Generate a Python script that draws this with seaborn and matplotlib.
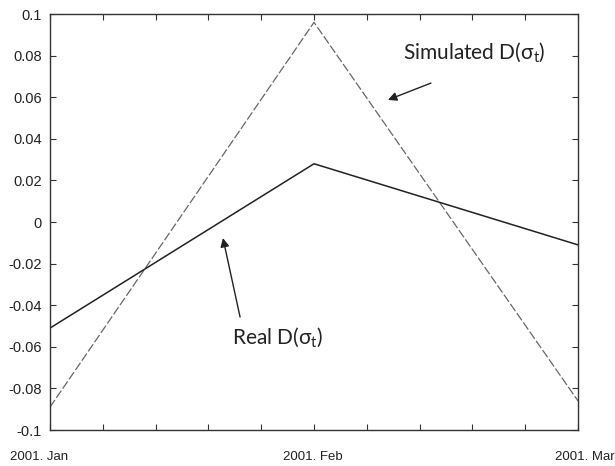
import matplotlib
matplotlib.use("Agg")
import matplotlib.pyplot as plt
import matplotlib.transforms as mtransforms
from matplotlib.ticker import MultipleLocator
import seaborn as sns
import pandas as pd

months = ["2001. Jan", "2001. Feb", "2001. Mar"]
simulated = [-0.089, 0.096, -0.086]
real = [-0.051, 0.028, -0.011]
yticks = [-0.1, -0.08, -0.06, -0.04, -0.02, 0, 0.02, 0.04, 0.06, 0.08, 0.1]
ytick_labels = ["-0.1", "-0.08", "-0.06", "-0.04", "-0.02", "0",
                "0.02", "0.04", "0.06", "0.08", "0.1"]

sns.set_style("ticks")
plt.rcParams['font.family'] = ['Liberation Sans', 'DejaVu Sans']
plt.rcParams['mathtext.fontset'] = 'custom'
plt.rcParams['mathtext.rm'] = 'Lato'
plt.rcParams['mathtext.it'] = 'Lato'

df = pd.DataFrame({"pos": list(range(len(months))) * 2,
                   "value": simulated + real,
                   "series": ["Simulated"] * 3 + ["Real"] * 3})

fig = plt.figure(figsize=(6.15, 4.66), dpi=100)
ax = fig.add_axes([50/615, 36/466, 528/615, 416/466])

sns.lineplot(data=df[df.series == "Simulated"], x="pos", y="value", ax=ax,
             color="#666666", linewidth=0.9, legend=False)
ax.lines[-1].set_linestyle((0, (7, 2)))
sns.lineplot(data=df[df.series == "Real"], x="pos", y="value", ax=ax,
             color="#222222", linewidth=1.1, legend=False)

ax.set_xlim(0, 2)
ax.set_ylim(-0.1, 0.1)
ax.set_xlabel("")
ax.set_ylabel("")
ax.set_xticks(range(len(months)))
ax.set_xticklabels(months, fontsize=9.5, color="#222222")
ax.xaxis.set_minor_locator(MultipleLocator(0.2))
ax.set_yticks(yticks)
ax.set_yticklabels(ytick_labels, fontsize=10.5, color="#222222")
ax.tick_params(axis='both', which='both', direction='in', top=True, right=True,
               length=4, width=0.8, color="#333333")
ax.tick_params(axis='x', which='both', pad=15)
ax.tick_params(axis='y', pad=6)
for s in ax.spines.values():
    s.set_linewidth(1.0)
    s.set_color("#333333")

labs = ax.get_xticklabels()
for lab, dx in zip(labs, [-11, -1, 7]):
    off = mtransforms.ScaledTranslation(dx/100, 0, fig.dpi_scale_trans)
    lab.set_transform(lab.get_transform() + off)

arrow_kw = dict(arrowstyle="-|>", color="#222222", lw=1.0,
                mutation_scale=13, shrinkA=0, shrinkB=0)
ax.text(1.608, 0.0817, "Simulated D($\\mathrm{\\sigma_t}$)", fontsize=15,
        family="Lato", color="#222222", ha="center", va="center")
ax.annotate("", xy=(1.28, 0.0587), xytext=(1.443, 0.0668), arrowprops=arrow_kw)
ax.text(0.864, -0.0553, "Real D($\\mathrm{\\sigma_t}$)", fontsize=15,
        family="Lato", color="#222222", ha="center", va="center")
ax.annotate("", xy=(0.655, -0.0077), xytext=(0.72, -0.0457), arrowprops=arrow_kw)

fig.savefig("out.png", dpi=100)
